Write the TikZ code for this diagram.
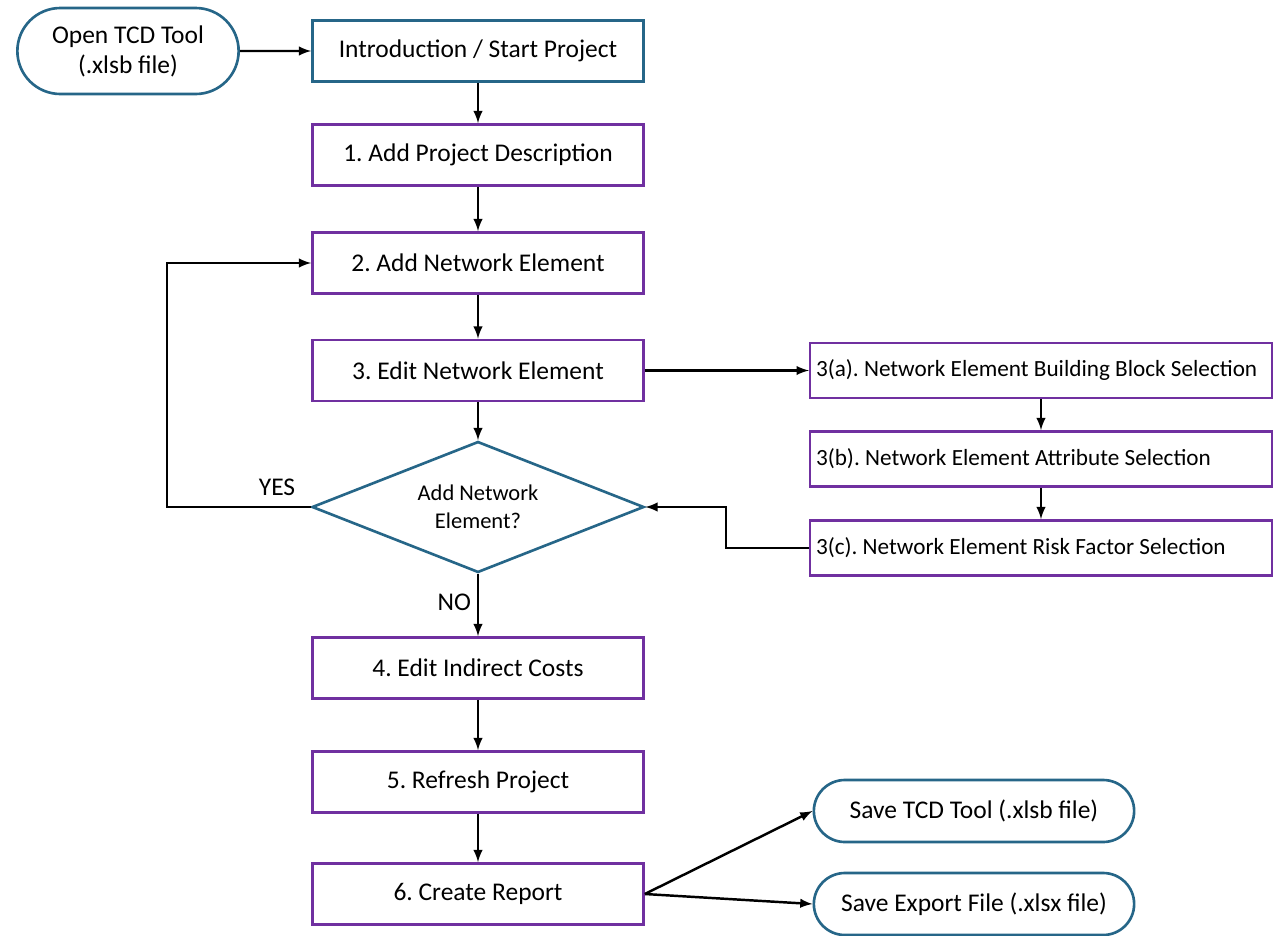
\documentclass[tikz,border=0pt]{standalone}
\usepackage{fontspec}
\setmainfont{Carlito}
\usepackage{xcolor}
\usetikzlibrary{arrows,shapes,positioning}

\definecolor{tealline}{RGB}{38,102,136}
\definecolor{purpleline}{RGB}{112,48,160}
\frenchspacing

\tikzset{
  startbox/.style={draw=tealline, line width=1.5pt, fill=white, minimum width=6.62cm, minimum height=1.22cm, font=\fontsize{14.5}{17}\selectfont},
  procbox/.style={draw=purpleline, line width=1.5pt, fill=white, minimum width=6.62cm, minimum height=1.22cm, font=\fontsize{14.5}{17}\selectfont},
  subbox/.style={draw=purpleline, line width=1.5pt, fill=white, text width=9.0cm, align=flush left, minimum height=1.1cm, font=\fontsize{13.2}{16}\selectfont},
  termbox/.style={draw=tealline, line width=1.5pt, fill=white, rounded rectangle, minimum width=6.64cm, minimum height=1.24cm, font=\fontsize{14.5}{17}\selectfont},
  decision/.style={draw=tealline, line width=1.5pt, fill=white, diamond, aspect=2.53, minimum width=6.64cm, minimum height=2.62cm, inner sep=0pt, align=center, font=\fontsize{12.8}{16}\selectfont},
  flow/.style={->, >=latex, line width=1.4pt}
}

\begin{document}
\begin{tikzpicture}
            \useasboundingbox (0,0) rectangle (25.54,-18.70);

            \node[termbox, minimum width=4.66cm, minimum height=1.72cm, align=center] (opentool) at (2.56,-1.02) {Open TCD Tool\\(.xlsb file)};
            \node[startbox] (intro) at (9.56,-1.02) {Introduction / Start Project};
            \node[procbox] (projdesc) at (9.56,-3.10) {1. Add Project Description};
            \node[procbox] (addelem) at (9.56,-5.26) {2. Add Network Element};
            \node[procbox] (editelem) at (9.56,-7.41) {3. Edit Network Element};
            \node[decision] (addmore) at (9.56,-10.14) {Add Network\\Element?};
            \node[procbox] (indirect) at (9.56,-13.36) {4. Edit Indirect Costs};
            \node[procbox] (refresh) at (9.56,-15.64) {5. Refresh Project};
            \node[procbox] (report) at (9.56,-17.88) {6. Create Report};

            \node[subbox] (blocksel) at (20.82,-7.41) {3(a). Network Element Building Block Selection};
            \node[subbox] (attrsel) at (20.82,-9.18) {3(b). Network Element Attribute Selection};
            \node[subbox] (risksel) at (20.82,-10.96) {3(c). Network Element Risk Factor Selection};

            \node[termbox] (savetool) at (19.48,-16.22) {Save TCD Tool (.xlsb file)};
            \node[termbox] (saveexport) at (19.48,-18.08) {Save Export File (.xlsx file)};

            % main line
            \draw[flow] (opentool) -- (intro);
            \draw[flow] (intro) -- (projdesc);
            \draw[flow] (projdesc) -- (addelem);
            \draw[flow] (addelem) -- (editelem);
            \draw[flow] (editelem) -- (addmore);
            \draw[flow] (addmore) -- (indirect) node[pos=0.45, left, font=\fontsize{14.5}{17}\selectfont] {NO};
            \draw[flow] (indirect) -- (refresh);
            \draw[flow] (refresh) -- (report);

            % loop back
            \draw[flow] (addmore.west) -- (3.34,-10.14) |- (addelem.west);
            \node[font=\fontsize{14.5}{17}\selectfont] (yes) at (5.54,-9.74) {YES};

            % sub steps
            \draw[flow] (editelem.east) -- (blocksel.west);
            \draw[flow] (blocksel) -- (attrsel);
            \draw[flow] (attrsel) -- (risksel);
            \draw[flow] (risksel.west) -- (14.52,-10.96) |- (addmore.east);

            % saving
            \draw[flow] (report.east) -- (savetool.west);
            \draw[flow] (report.east) -- (saveexport.west);
        \end{tikzpicture}
\end{document}
